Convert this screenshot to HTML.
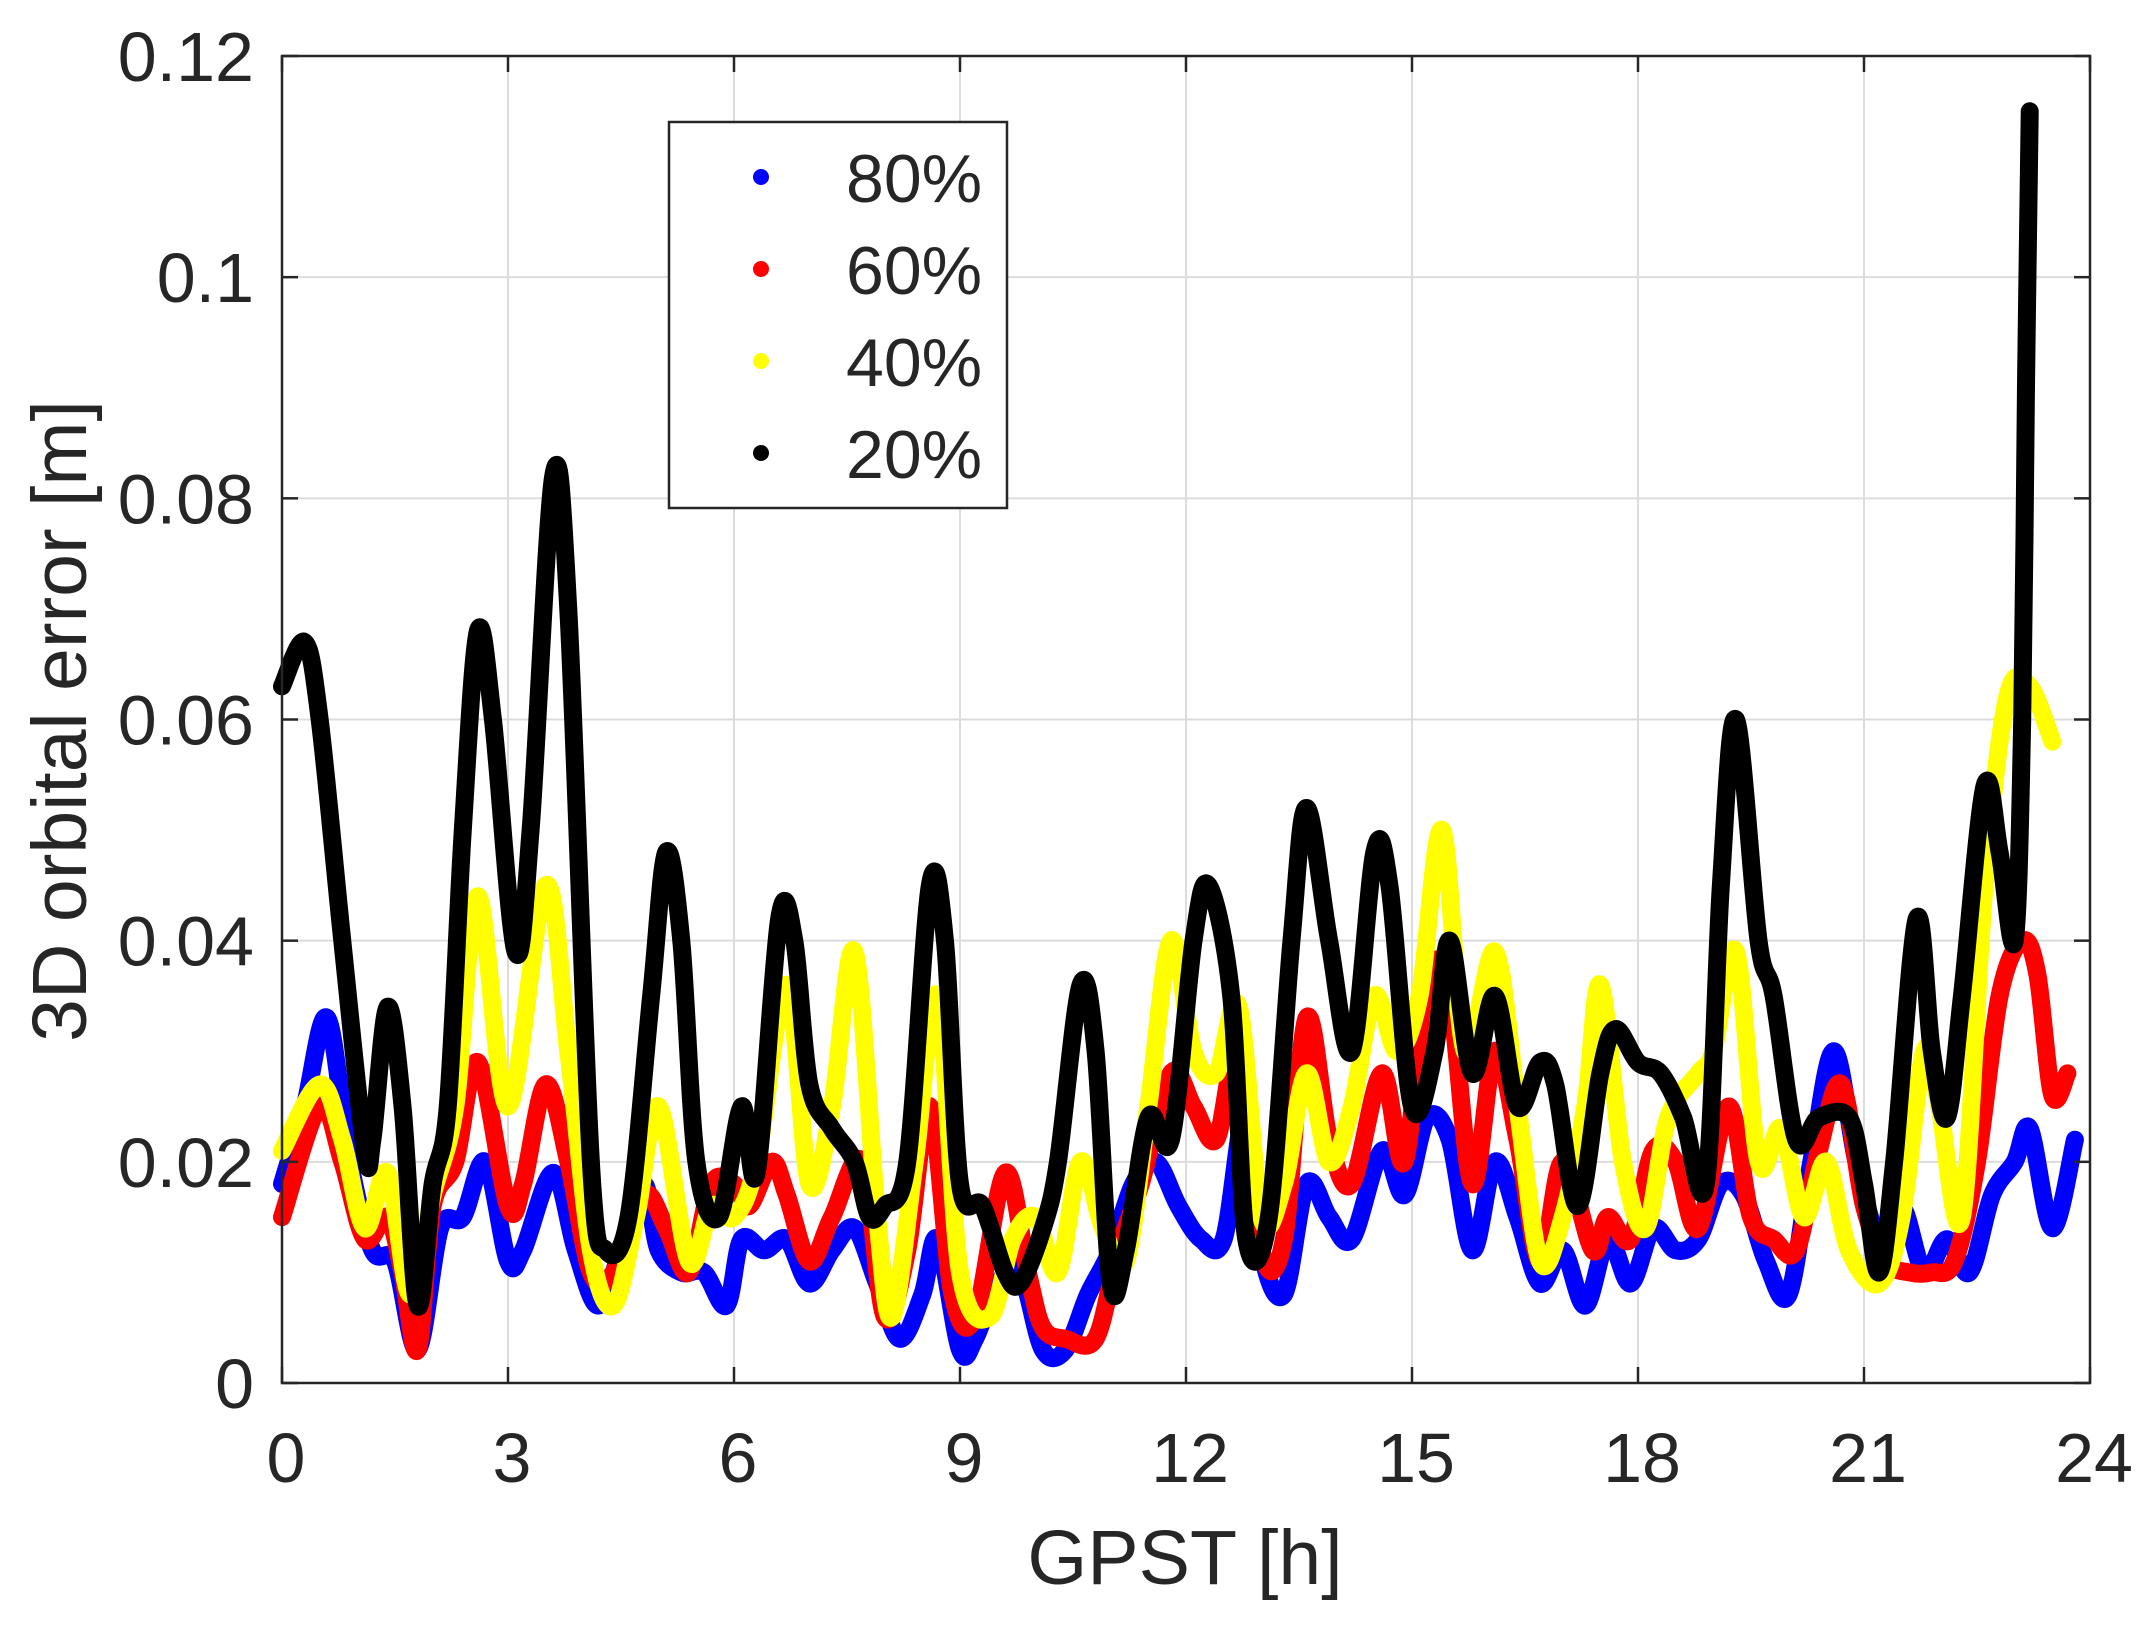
<!DOCTYPE html>
<html><head><meta charset="utf-8"><style>
html,body{margin:0;padding:0;background:#fff}
svg text{font-family:"Liberation Sans",Arial,sans-serif;fill:#262626}
</style></head><body>
<svg id="s" width="2145" height="1628" xmlns="http://www.w3.org/2000/svg">
<rect width="2145" height="1628" fill="#fff"/>
<g id="grid" stroke="#dcdcdc" stroke-width="2"></g>
<g id="data" fill="none" stroke-linecap="round" stroke-linejoin="round"></g>
<rect x="282" y="56" width="1808" height="1327" fill="none" stroke="#262626" stroke-width="2.5"/>
<g id="ticks" stroke="#262626" stroke-width="2.5"></g>
<g id="labels" font-size="70"></g>
<text x="1185" y="1584" font-size="77" text-anchor="middle">GPST [h]</text>
<text transform="translate(86,721) rotate(-90)" font-size="77" text-anchor="middle">3D orbital error [m]</text>
<rect x="669" y="122" width="338" height="386" fill="#fff" stroke="#262626" stroke-width="2.5"/>
<circle cx="761" cy="177" r="8" fill="#0000ff"/>
<circle cx="761" cy="269" r="8" fill="#ff0000"/>
<circle cx="761" cy="361" r="8" fill="#ffff00"/>
<circle cx="761" cy="453" r="8" fill="#000"/>
<g font-size="68"><text x="846" y="202">80%</text><text x="846" y="294">60%</text><text x="846" y="386">40%</text><text x="846" y="478">20%</text></g>
</svg>
<script>
var L=282,R=2090,T=56,B=1383;
function X(h){return L+h*(R-L)/24}
function Y(v){return B-v*(B-T)/0.12}
var ns="http://www.w3.org/2000/svg";
function el(p,t,a,txt){var e=document.createElementNS(ns,t);for(var k in a)e.setAttribute(k,a[k]);if(txt!==undefined)e.textContent=txt;document.getElementById(p).appendChild(e);}
for(var i=1;i<8;i++){var x=X(i*3);el('grid','line',{x1:x,x2:x,y1:T,y2:B});}
for(var j=1;j<6;j++){var y=Y(j*0.02);el('grid','line',{x1:L,x2:R,y1:y,y2:y});}
for(var i=0;i<=8;i++){var x=X(i*3);el('ticks','line',{x1:x,x2:x,y1:B,y2:B-16});el('ticks','line',{x1:x,x2:x,y1:T,y2:T+16});
el('labels','text',{x:x+4,y:1482,'text-anchor':'middle'},String(i*3));}
var yl=['0','0.02','0.04','0.06','0.08','0.1','0.12'];
for(var j=0;j<=6;j++){var y=Y(j*0.02);el('ticks','line',{x1:L,x2:L+16,y1:y,y2:y});el('ticks','line',{x1:R,x2:R-16,y1:y,y2:y});
el('labels','text',{x:254,y:y+25,'text-anchor':'end'},yl[j]);}
function path(pts){var p=pts.map(function(a){return [X(a[0]),Y(a[1])]});var d='M'+p[0][0]+','+p[0][1];
for(var i=0;i<p.length-1;i++){var p0=p[i-1]||p[i],p1=p[i],p2=p[i+1],p3=p[i+2]||p2;
d+=' C'+(p1[0]+(p2[0]-p0[0])/6)+','+(p1[1]+(p2[1]-p0[1])/6)+' '+(p2[0]-(p3[0]-p1[0])/6)+','+(p2[1]-(p3[1]-p1[1])/6)+' '+p2[0]+','+p2[1];}return d;}
var blue=[[0,0.018],[0.3,0.025],[0.6,0.033],[0.9,0.02],[1.2,0.012],[1.5,0.011],[1.8,0.003],[2.1,0.014],[2.4,0.015],[2.7,0.02],[3.0,0.011],[3.2,0.012],[3.6,0.019],[3.9,0.012],[4.2,0.007],[4.5,0.012],[4.8,0.018],[5.0,0.012],[5.3,0.01],[5.6,0.01],[5.9,0.007],[6.1,0.013],[6.4,0.012],[6.7,0.013],[7.0,0.009],[7.3,0.012],[7.6,0.014],[7.9,0.009],[8.2,0.004],[8.5,0.008],[8.7,0.013],[9.0,0.003],[9.2,0.004],[9.5,0.009],[9.8,0.01],[10.1,0.003],[10.4,0.003],[10.7,0.008],[11.0,0.012],[11.3,0.018],[11.6,0.02],[11.9,0.016],[12.2,0.013],[12.5,0.013],[12.8,0.025],[13.0,0.012],[13.3,0.008],[13.6,0.018],[13.9,0.015],[14.2,0.013],[14.6,0.021],[14.9,0.017],[15.2,0.024],[15.5,0.022],[15.8,0.012],[16.1,0.02],[16.4,0.015],[16.7,0.009],[17.0,0.012],[17.3,0.007],[17.6,0.013],[17.9,0.009],[18.2,0.014],[18.5,0.012],[18.8,0.013],[19.1,0.018],[19.4,0.017],[19.7,0.011],[20.0,0.008],[20.3,0.02],[20.6,0.03],[20.9,0.02],[21.2,0.013],[21.5,0.016],[21.8,0.01],[22.1,0.013],[22.4,0.01],[22.7,0.017],[23.0,0.02],[23.2,0.023],[23.5,0.014],[23.8,0.022]];
var red=[[0,0.015],[0.5,0.025],[0.8,0.02],[1.1,0.013],[1.4,0.015],[1.6,0.01],[1.8,0.003],[2.0,0.016],[2.3,0.02],[2.6,0.029],[3.0,0.016],[3.2,0.018],[3.5,0.027],[3.8,0.02],[4.1,0.01],[4.4,0.01],[4.8,0.017],[5.1,0.014],[5.4,0.01],[5.7,0.018],[6.0,0.018],[6.2,0.016],[6.5,0.02],[6.7,0.017],[7.0,0.011],[7.3,0.015],[7.7,0.02],[8.0,0.006],[8.3,0.012],[8.6,0.025],[8.9,0.008],[9.2,0.006],[9.6,0.019],[9.9,0.01],[10.1,0.005],[10.4,0.004],[10.8,0.004],[11.1,0.012],[11.4,0.018],[11.8,0.028],[12.1,0.025],[12.4,0.022],[12.7,0.03],[13.0,0.012],[13.3,0.013],[13.6,0.033],[13.9,0.022],[14.2,0.018],[14.6,0.028],[14.9,0.02],[15.2,0.037],[15.5,0.035],[15.8,0.018],[16.1,0.03],[16.4,0.022],[16.7,0.011],[17.0,0.02],[17.4,0.012],[17.6,0.015],[17.9,0.013],[18.2,0.021],[18.5,0.02],[18.8,0.014],[19.2,0.025],[19.5,0.015],[19.8,0.013],[20.1,0.012],[20.4,0.021],[20.7,0.027],[21.0,0.016],[21.3,0.011],[21.6,0.01],[21.9,0.01],[22.2,0.011],[22.5,0.02],[22.8,0.035],[23.1,0.04],[23.3,0.037],[23.5,0.026],[23.7,0.028]];
var yel=[[0,0.021],[0.5,0.027],[0.8,0.022],[1.1,0.014],[1.4,0.019],[1.7,0.008],[2.0,0.017],[2.3,0.025],[2.6,0.044],[3.0,0.025],[3.5,0.045],[3.8,0.03],[4.1,0.012],[4.4,0.007],[4.7,0.015],[5.0,0.025],[5.4,0.011],[5.7,0.016],[6.0,0.015],[6.3,0.02],[6.7,0.036],[7.0,0.018],[7.3,0.025],[7.6,0.039],[7.9,0.015],[8.1,0.006],[8.4,0.02],[8.7,0.035],[9.0,0.01],[9.4,0.006],[9.7,0.013],[10.0,0.015],[10.3,0.01],[10.6,0.02],[10.9,0.014],[11.2,0.011],[11.5,0.025],[11.8,0.04],[12.1,0.03],[12.4,0.028],[12.7,0.034],[13.0,0.015],[13.3,0.018],[13.6,0.028],[13.9,0.02],[14.2,0.025],[14.5,0.035],[14.8,0.03],[15.1,0.035],[15.4,0.05],[15.7,0.03],[16.1,0.039],[16.4,0.025],[16.7,0.011],[17.0,0.015],[17.3,0.025],[17.5,0.036],[17.8,0.02],[18.1,0.014],[18.4,0.024],[18.8,0.028],[19.0,0.03],[19.3,0.039],[19.6,0.02],[19.9,0.023],[20.2,0.015],[20.5,0.02],[20.8,0.012],[21.2,0.009],[21.5,0.015],[21.8,0.03],[22.0,0.025],[22.3,0.015],[22.6,0.045],[22.9,0.062],[23.2,0.063],[23.5,0.058]];
var blk=[[0,0.063],[0.3,0.067],[0.5,0.06],[0.8,0.04],[1.1,0.021],[1.2,0.022],[1.4,0.034],[1.6,0.025],[1.8,0.007],[2.0,0.018],[2.2,0.025],[2.4,0.05],[2.6,0.068],[2.8,0.06],[3.1,0.039],[3.3,0.05],[3.6,0.082],[3.8,0.07],[4.1,0.02],[4.3,0.012],[4.6,0.015],[4.9,0.035],[5.1,0.048],[5.3,0.04],[5.5,0.02],[5.8,0.015],[6.1,0.025],[6.3,0.019],[6.6,0.042],[6.8,0.04],[7.0,0.027],[7.3,0.023],[7.6,0.02],[7.8,0.015],[8.0,0.016],[8.3,0.02],[8.6,0.045],[8.8,0.04],[9.0,0.018],[9.3,0.016],[9.6,0.01],[9.8,0.009],[10.1,0.014],[10.3,0.02],[10.6,0.036],[10.8,0.03],[11.0,0.009],[11.2,0.012],[11.5,0.024],[11.8,0.022],[12.1,0.04],[12.3,0.045],[12.6,0.035],[12.8,0.013],[13.1,0.015],[13.4,0.04],[13.6,0.052],[13.9,0.04],[14.2,0.03],[14.5,0.048],[14.7,0.045],[15.0,0.025],[15.3,0.03],[15.5,0.04],[15.8,0.028],[16.1,0.035],[16.4,0.025],[16.7,0.029],[16.9,0.027],[17.2,0.016],[17.5,0.028],[17.7,0.032],[18.0,0.029],[18.3,0.028],[18.6,0.024],[18.9,0.018],[19.1,0.045],[19.3,0.06],[19.6,0.04],[19.8,0.035],[20.1,0.022],[20.4,0.024],[20.8,0.024],[21.0,0.018],[21.2,0.01],[21.4,0.02],[21.7,0.042],[21.9,0.03],[22.1,0.024],[22.3,0.035],[22.6,0.054],[22.8,0.048],[23.0,0.04],[23.1,0.06],[23.15,0.09],[23.2,0.115]];
[[blue,'#0000ff'],[red,'#ff0000'],[yel,'#ffff00'],[blk,'#000000']].forEach(function(s){el('data','path',{d:path(s[0]),stroke:s[1],'stroke-width':18});});
</script>
</body></html>
